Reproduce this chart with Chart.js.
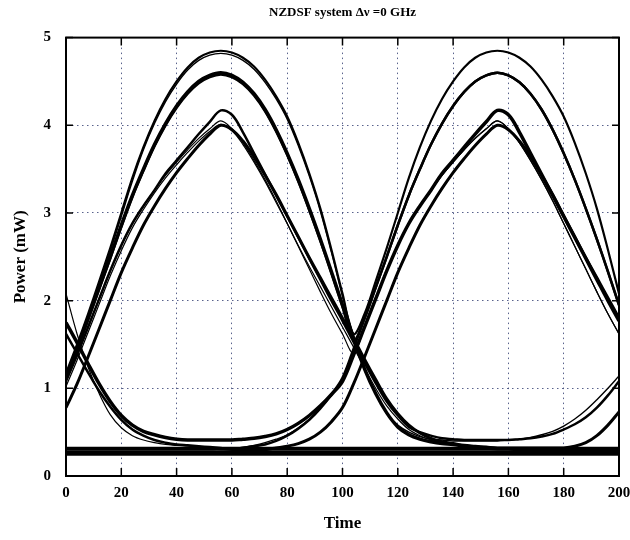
<!DOCTYPE html>
<html>
<head>
<meta charset="utf-8">
<title>NZDSF eye diagram</title>
<script src="https://cdn.jsdelivr.net/npm/chart.js@4.4.0/dist/chart.umd.min.js"></script>
<style>
  html, body { margin: 0; padding: 0; background: #fff; }
</style>
</head>
<body>
<canvas id="eyeChart" width="630" height="540"></canvas>
<script>
// time axis samples and ticks
var timeSteps = [0,4,8,12,16,20,24,28,32,36,40,44,48,52,56,60,64,68,72,76,80,84,88,92,96,100,104,108,112,116,120,124,128,132,136,140,144,148,152,156,160,164,168,172,176,180,184,188,192,196,200];
var timeTicks = [0,20,40,60,80,100,120,140,160,180,200];
var powerTicks = [0,1,2,3,4,5];

// traces (mW)
var traceA1 = [1.17,1.50,1.85,2.22,2.60,3.00,3.40,3.75,4.05,4.30,4.50,4.66,4.77,4.83,4.85,4.83,4.77,4.67,4.52,4.33,4.10,3.80,3.45,3.05,2.58,2.08,1.62,1.85,2.22,2.60,3.00,3.40,3.75,4.05,4.30,4.50,4.66,4.77,4.83,4.85,4.83,4.77,4.67,4.52,4.33,4.10,3.80,3.45,3.05,2.58,2.08];
var traceA2 = [1.12,1.45,1.80,2.18,2.56,2.96,3.36,3.72,4.02,4.27,4.47,4.63,4.74,4.80,4.82,4.80,4.74,4.64,4.49,4.30,4.07,3.77,3.42,3.02,2.55,2.05,1.60,1.22,0.94,0.72,0.58,0.50,0.45,0.42,0.41,0.40,0.40,0.40,0.40,0.40,0.41,0.42,0.44,0.47,0.51,0.57,0.65,0.75,0.87,1.00,1.14];
var traceB1 = [1.12,1.45,1.80,2.15,2.50,2.86,3.20,3.50,3.78,4.02,4.22,4.38,4.50,4.57,4.60,4.57,4.49,4.36,4.18,3.95,3.68,3.38,3.05,2.70,2.33,1.95,1.57,1.22,0.94,0.72,0.56,0.47,0.42,0.39,0.37,0.36,0.34,0.33,0.32,0.31,0.31,0.30,0.30,0.30,0.30,0.30,0.30,0.30,0.30,0.30,0.30];
var traceB2 = [1.10,1.43,1.78,2.13,2.48,2.84,3.18,3.48,3.76,4.00,4.20,4.36,4.48,4.55,4.58,4.55,4.47,4.34,4.16,3.93,3.66,3.36,3.03,2.68,2.31,1.93,1.55,1.80,2.15,2.50,2.86,3.20,3.50,3.78,4.02,4.22,4.38,4.50,4.57,4.60,4.57,4.49,4.36,4.18,3.95,3.68,3.38,3.05,2.70,2.33,1.95];
var traceB3 = [1.62,1.40,1.18,0.97,0.79,0.64,0.53,0.46,0.41,0.38,0.36,0.35,0.34,0.33,0.32,0.31,0.32,0.34,0.36,0.40,0.46,0.54,0.64,0.77,0.93,1.12,1.45,1.80,2.15,2.50,2.86,3.20,3.50,3.78,4.02,4.22,4.38,4.50,4.57,4.60,4.57,4.49,4.36,4.18,3.95,3.68,3.38,3.05,2.70,2.33,1.95];
var traceC1 = [1.08,1.38,1.70,2.02,2.34,2.63,2.88,3.08,3.26,3.45,3.60,3.75,3.90,4.04,4.17,4.12,3.92,3.68,3.44,3.20,2.96,2.72,2.48,2.24,2.00,1.77,1.53,1.29,1.06,0.85,0.69,0.56,0.50,0.46,0.43,0.42,0.41,0.41,0.41,0.41,0.41,0.42,0.43,0.45,0.48,0.53,0.59,0.67,0.78,0.92,1.08];
var traceC2 = [1.75,1.52,1.28,1.05,0.85,0.69,0.58,0.51,0.47,0.44,0.42,0.41,0.41,0.41,0.41,0.41,0.42,0.43,0.45,0.48,0.53,0.60,0.69,0.80,0.93,1.08,1.38,1.70,2.02,2.34,2.63,2.88,3.08,3.26,3.45,3.60,3.75,3.90,4.04,4.17,4.12,3.92,3.68,3.44,3.20,2.96,2.72,2.48,2.24,2.00,1.77];
var traceD1 = [1.08,1.38,1.70,2.02,2.34,2.63,2.88,3.08,3.26,3.43,3.58,3.72,3.85,3.96,4.05,3.96,3.80,3.60,3.38,3.14,2.88,2.62,2.36,2.10,1.85,1.62,1.40,1.70,2.02,2.34,2.63,2.88,3.08,3.26,3.43,3.58,3.72,3.85,3.96,4.05,3.96,3.80,3.60,3.38,3.14,2.88,2.62,2.36,2.10,1.85,1.62];
var traceD2 = [1.02,1.32,1.64,1.96,2.28,2.57,2.83,3.04,3.23,3.40,3.55,3.69,3.82,3.93,4.01,3.94,3.78,3.58,3.36,3.12,2.88,2.63,2.39,2.16,1.93,1.70,1.47,1.23,1.00,0.80,0.65,0.53,0.46,0.41,0.38,0.36,0.35,0.34,0.33,0.32,0.31,0.30,0.30,0.30,0.29,0.29,0.29,0.29,0.29,0.29,0.29];
var traceD3 = [0.78,1.05,1.36,1.68,2.00,2.32,2.60,2.86,3.08,3.28,3.46,3.62,3.77,3.90,4.00,3.95,3.82,3.64,3.43,3.21,2.97,2.73,2.49,2.26,2.03,1.80,1.57,1.33,1.10,0.88,0.71,0.58,0.49,0.43,0.39,0.37,0.35,0.34,0.33,0.32,0.32,0.32,0.32,0.32,0.32,0.32,0.34,0.38,0.46,0.58,0.73];
var traceD4 = [0.27,0.27,0.27,0.27,0.27,0.27,0.27,0.27,0.27,0.27,0.27,0.27,0.27,0.27,0.27,0.28,0.28,0.29,0.30,0.32,0.34,0.37,0.42,0.50,0.62,0.78,1.05,1.36,1.68,2.00,2.32,2.60,2.86,3.08,3.28,3.46,3.62,3.77,3.90,4.00,3.95,3.82,3.64,3.43,3.21,2.97,2.73,2.49,2.26,2.03,1.80];
var traceD5 = [2.08,1.62,1.24,0.94,0.70,0.55,0.46,0.41,0.38,0.36,0.35,0.34,0.33,0.32,0.31,0.31,0.33,0.35,0.38,0.42,0.47,0.55,0.65,0.78,0.92,1.08,1.38,1.70,2.02,2.34,2.63,2.88,3.08,3.26,3.43,3.58,3.72,3.85,3.96,4.05,3.96,3.80,3.60,3.38,3.14,2.88,2.62,2.36,2.10,1.85,1.62];
var baseLow = [0.26,0.26,0.26,0.26,0.26,0.26,0.26,0.26,0.26,0.26,0.26,0.26,0.26,0.26,0.26,0.26,0.26,0.26,0.26,0.26,0.26,0.26,0.26,0.26,0.26,0.26,0.26,0.26,0.26,0.26,0.26,0.26,0.26,0.26,0.26,0.26,0.26,0.26,0.26,0.26,0.26,0.26,0.26,0.26,0.26,0.26,0.26,0.26,0.26,0.26,0.26];
var baseHigh = [0.31,0.31,0.31,0.31,0.31,0.31,0.31,0.31,0.31,0.31,0.31,0.31,0.31,0.31,0.31,0.31,0.31,0.31,0.31,0.31,0.31,0.31,0.31,0.31,0.31,0.31,0.31,0.31,0.31,0.31,0.31,0.31,0.31,0.31,0.31,0.31,0.31,0.31,0.31,0.31,0.31,0.31,0.31,0.31,0.31,0.31,0.31,0.31,0.31,0.31,0.31];

var serif = "'Liberation Serif', 'Times New Roman', serif";

function trace(values, width) {
    return {
        data: values.map(function (v, i) { return {x: timeSteps[i], y: v}; }),
        borderColor: '#000',
        borderWidth: width,
        pointRadius: 0,
        tension: 0.35,
        fill: false
    };
}

// box round the plot with ticks pointing inwards
var frameTicks = {
    id: 'frameTicks',
    afterDatasetsDraw: function (chart) {
        var c = chart.ctx, a = chart.chartArea, x = chart.scales.x, y = chart.scales.y;
        c.save();
        c.strokeStyle = '#000';
        c.lineWidth = 1.5;
        c.beginPath();
        x.ticks.forEach(function (t) {
            var px = x.getPixelForValue(t.value);
            c.moveTo(px, a.bottom); c.lineTo(px, a.bottom - 8);
            c.moveTo(px, a.top); c.lineTo(px, a.top + 8);
        });
        y.ticks.forEach(function (t) {
            var py = y.getPixelForValue(t.value);
            c.moveTo(a.left, py); c.lineTo(a.left + 7, py);
            c.moveTo(a.right, py); c.lineTo(a.right - 7, py);
        });
        c.stroke();
        c.lineWidth = 2;
        c.strokeRect(a.left, a.top, a.right - a.left, a.bottom - a.top);
        c.restore();
    }
};

var ctx = document.getElementById('eyeChart').getContext('2d');
var chart = new Chart(ctx, {
    type: 'line',
    data: {
        datasets: [
            trace(baseLow, 5),
            trace(baseHigh, 4),
            trace(traceA1, 2.2),
            trace(traceA2, 1.4),
            trace(traceB1, 3.5),
            trace(traceB2, 2.5),
            trace(traceB3, 2.5),
            trace(traceC1, 2.5),
            trace(traceC2, 3.5),
            trace(traceD1, 1.2),
            trace(traceD2, 1.2),
            trace(traceD3, 3),
            trace(traceD4, 3),
            trace(traceD5, 1.2)
        ]
    },
    options: {
        responsive: false,
        animation: false,
        layout: { padding: { left: 0, right: 11, top: 0, bottom: 0 } },
        plugins: {
            legend: { display: false },
            tooltip: { enabled: false },
            title: {
                display: true,
                text: 'NZDSF system \u0394\u03bd =0 GHz',
                color: '#000',
                fullSize: false,
                font: { family: serif, size: 13, weight: 'bold' },
                padding: { top: 5, bottom: 17 }
            }
        },
        scales: {
            x: {
                type: 'linear',
                min: 0,
                max: 200,
                afterBuildTicks: function (s) { s.ticks = timeTicks.map(function (v) { return {value: v}; }); },
                afterFit: function (s) { s.height = 64; s.paddingLeft = 0; s.paddingRight = 0; },
                ticks: { color: '#000', font: { family: serif, size: 15, weight: 'bold' }, padding: 8, maxRotation: 0, autoSkip: false },
                grid: { color: 'rgba(60,70,120,0.85)', lineWidth: 1, drawTicks: false },
                border: { display: true, color: '#000', width: 2, dash: [1.5, 3.5] },
                title: { display: true, text: 'Time', color: '#000', font: { family: serif, size: 17, weight: 'bold' }, padding: { top: 0, bottom: 6 } }
            },
            y: {
                min: 0,
                max: 5,
                afterBuildTicks: function (s) { s.ticks = powerTicks.map(function (v) { return {value: v}; }); },
                afterFit: function (s) { s.width = 66; },
                ticks: { color: '#000', font: { family: serif, size: 15, weight: 'bold' }, padding: 15 },
                grid: { color: 'rgba(60,70,120,0.85)', lineWidth: 1, drawTicks: false },
                border: { display: true, color: '#000', width: 2, dash: [1.5, 3.5] },
                title: { display: true, text: 'Power (mW)', color: '#000', font: { family: serif, size: 17, weight: 'bold' }, padding: { top: 10, bottom: 0 } }
            }
        }
    },
    plugins: [frameTicks]
});
</script>
</body>
</html>
